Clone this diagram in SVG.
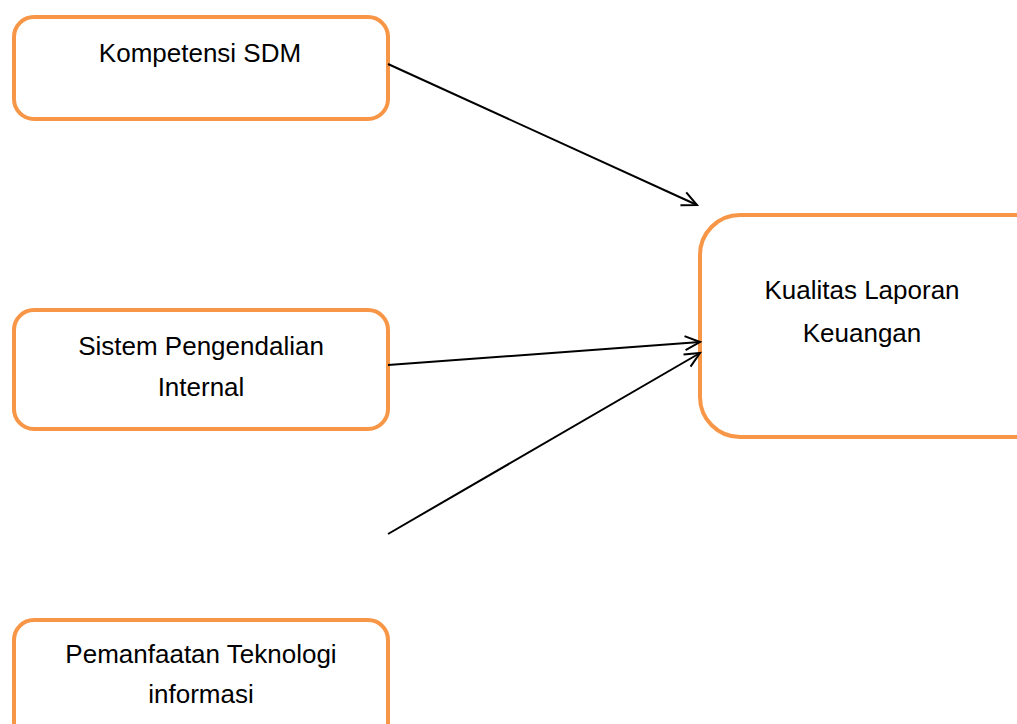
<svg xmlns="http://www.w3.org/2000/svg" width="1017" height="724" viewBox="0 0 1017 724">
<style>
.box{fill:#fff;stroke:#F79646;stroke-width:4}
.t{font-family:"Liberation Sans",Arial,sans-serif;font-size:26px;fill:#000;text-anchor:middle}
.c{stroke:#000;stroke-width:2;fill:none}
</style>
<defs>
<marker id="arr" markerUnits="userSpaceOnUse" markerWidth="20" markerHeight="20" refX="16" refY="8" orient="auto" viewBox="0 0 20 16">
<path d="M1,1 L16,8 L1,15" fill="none" stroke="#000" stroke-width="2"/>
</marker>
</defs>
<rect width="1017" height="724" fill="#fff"/>
<g id="node-kompetensi">
<rect class="box" x="14" y="17" width="374" height="102" rx="20"/>
<text class="t" x="200" y="62">Kompetensi SDM</text>
</g>
<g id="node-sistem">
<rect class="box" x="14" y="310" width="374" height="119" rx="20"/>
<text class="t" x="201" y="355">Sistem Pengendalian</text>
<text class="t" x="201" y="396">Internal</text>
</g>
<g id="node-pemanfaatan">
<rect class="box" x="14" y="620" width="374" height="130" rx="20"/>
<text class="t" x="201" y="663">Pemanfaatan Teknologi</text>
<text class="t" x="201" y="703">informasi</text>
</g>
<g id="node-kualitas">
<rect class="box" x="700" y="215" width="360" height="222" rx="40"/>
<text class="t" x="862" y="299">Kualitas Laporan</text>
<text class="t" x="862" y="342">Keuangan</text>
</g>
<g id="connectors">
<line class="c" x1="388" y1="64" x2="697" y2="205" marker-end="url(#arr)"/>
<line class="c" x1="388" y1="365" x2="700" y2="342" marker-end="url(#arr)"/>
<line class="c" x1="388" y1="534" x2="700" y2="353" marker-end="url(#arr)"/>
</g>
</svg>
